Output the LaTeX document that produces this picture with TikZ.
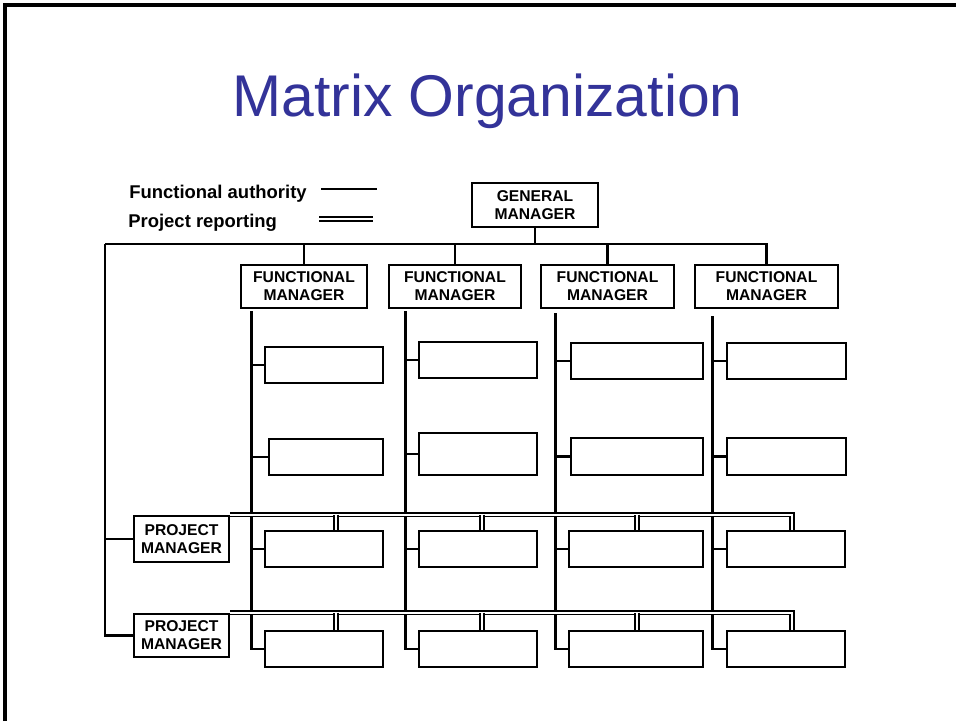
\documentclass[tikz,border=0pt]{standalone}
\usepackage{fontspec}
\setmainfont{Liberation Sans}
\usetikzlibrary{calc}
\definecolor{titleblue}{RGB}{51,51,153}
\tikzset{
  box/.style={draw, line width=1.5pt, inner sep=0pt, align=center,
    font=\fontsize{8.9}{10.2}\selectfont\bfseries},
  slot/.style={draw, line width=1.5pt, inner sep=0pt},
  legend/.style={inner sep=0pt, anchor=base west, font=\fontsize{10.5}{12}\selectfont\bfseries},
  authority/.style={line width=1.6pt},
  reporting/.style={double, double distance=1.2pt, line width=0.85pt},
}

\begin{document}
\begin{tikzpicture}[x=0.02cm,y=-0.02cm]
\useasboundingbox (0,0) rectangle (956,721);
\draw [line width=1.8pt] (5,721) -- (5,5) -- (956,5);
\node (title) [anchor=base, text=titleblue, font=\fontsize{33.5}{40}\selectfont] at (487.5,116) {Matrix Organization};

% legend
\node (fa) [legend] at (129,198) {Functional authority};
\node (pr) [legend] at (128,227) {Project reporting};
\coordinate (fa-a) at (321,189);
\coordinate (fa-b) at (377,189);
\coordinate (pr-a) at (319,219);
\coordinate (pr-b) at (373,219);
\draw [authority] (fa-a) -- (fa-b);
\draw [reporting] (pr-a) -- (pr-b);

% managers
\node (gm) [box, minimum width=2.52cm, minimum height=0.88cm] at (535,205) {GENERAL\\MANAGER};
\node (fm1) [box, minimum width=2.52cm, minimum height=0.86cm] at (304,286.5) {FUNCTIONAL\\MANAGER};
\node (fm2) [box, minimum width=2.64cm, minimum height=0.86cm] at (455,286.5) {FUNCTIONAL\\MANAGER};
\node (fm3) [box, minimum width=2.66cm, minimum height=0.86cm] at (607.5,286.5) {FUNCTIONAL\\MANAGER};
\node (fm4) [box, minimum width=2.86cm, minimum height=0.86cm] at (766.5,286.5) {FUNCTIONAL\\MANAGER};
\node (pm1) [box, minimum width=1.9cm, minimum height=0.92cm] at (181.5,539) {PROJECT\\MANAGER};
\node (pm2) [box, minimum width=1.9cm, minimum height=0.86cm] at (181.5,635.5) {PROJECT\\MANAGER};

% staff
\node (r1c1) [slot, minimum width=2.36cm, minimum height=0.72cm] at (324,365) {};
\node (r1c2) [slot, minimum width=2.36cm, minimum height=0.72cm] at (478,360) {};
\node (r1c3) [slot, minimum width=2.64cm, minimum height=0.72cm] at (637,361) {};
\node (r1c4) [slot, minimum width=2.38cm, minimum height=0.72cm] at (786.5,361) {};
\node (r2c1) [slot, minimum width=2.28cm, minimum height=0.72cm] at (326,457) {};
\node (r2c2) [slot, minimum width=2.36cm, minimum height=0.84cm] at (478,454) {};
\node (r2c3) [slot, minimum width=2.64cm, minimum height=0.74cm] at (637,456.5) {};
\node (r2c4) [slot, minimum width=2.38cm, minimum height=0.74cm] at (786.5,456.5) {};
\node (r3c1) [slot, minimum width=2.36cm, minimum height=0.72cm] at (324,549) {};
\node (r3c2) [slot, minimum width=2.36cm, minimum height=0.72cm] at (478,549) {};
\node (r3c3) [slot, minimum width=2.68cm, minimum height=0.72cm] at (636,549) {};
\node (r3c4) [slot, minimum width=2.36cm, minimum height=0.72cm] at (786,549) {};
\node (r4c1) [slot, minimum width=2.36cm, minimum height=0.72cm] at (324,649) {};
\node (r4c2) [slot, minimum width=2.36cm, minimum height=0.72cm] at (478,649) {};
\node (r4c3) [slot, minimum width=2.68cm, minimum height=0.72cm] at (636,649) {};
\node (r4c4) [slot, minimum width=2.36cm, minimum height=0.72cm] at (786,649) {};

% functional authority
\coordinate (bus) at (535,244);
\coordinate (lft) at (105,244);
\draw [authority] (gm.south) -- (bus);
\draw [authority] (lft) -- (fm4.north |- lft) -- (fm4.north);
\draw [authority] (fm1.north |- lft) -- (fm1.north);
\draw [authority] (fm2.north |- lft) -- (fm2.north);
\draw [authority] (fm3.north |- lft) -- (fm3.north);
\draw [authority] (lft) |- (pm1.west);
\draw [authority] (lft) |- (pm2.west);

\coordinate (v1) at ($(fm1.south west)+(12,2)$);
\coordinate (v2) at ($(fm2.south west)+(18,2)$);
\coordinate (v3) at ($(fm3.south west)+(16,4)$);
\coordinate (v4) at ($(fm4.south west)+(19,7)$);
\draw [authority] (v1) |- (r1c1.west) (v1) |- (r2c1.west) (v1) |- (r3c1.west) (v1) |- (r4c1.west);
\draw [authority] (v2) |- (r1c2.west) (v2) |- (r2c2.west) (v2) |- (r3c2.west) (v2) |- (r4c2.west);
\draw [authority] (v3) |- (r1c3.west) (v3) |- (r2c3.west) (v3) |- (r3c3.west) (v3) |- (r4c3.west);
\draw [authority] (v4) |- (r1c4.west) (v4) |- (r2c4.west) (v4) |- (r3c4.west) (v4) |- (r4c4.west);

% project reporting
\coordinate (p1) at ($(r3c1.north)+(12,0)$);
\coordinate (p2) at ($(r3c2.north)+(4,0)$);
\coordinate (p3) at ($(r3c3.north)+(1,0)$);
\coordinate (p4) at ($(r3c4.north)+(6,0)$);
\coordinate (q1) at ($(r4c1.north)+(12,0)$);
\coordinate (q2) at ($(r4c2.north)+(4,0)$);
\coordinate (q3) at ($(r4c3.north)+(1,0)$);
\coordinate (q4) at ($(r4c4.north)+(6,0)$);
\draw [reporting] (pm1.north east) -- (p4 |- pm1.north east) -- (p4);
\draw [reporting] (p1 |- pm1.north east) -- (p1);
\draw [reporting] (p2 |- pm1.north east) -- (p2);
\draw [reporting] (p3 |- pm1.north east) -- (p3);
\draw [reporting] (pm2.north east) -- (q4 |- pm2.north east) -- (q4);
\draw [reporting] (q1 |- pm2.north east) -- (q1);
\draw [reporting] (q2 |- pm2.north east) -- (q2);
\draw [reporting] (q3 |- pm2.north east) -- (q3);
\end{tikzpicture}
\end{document}
